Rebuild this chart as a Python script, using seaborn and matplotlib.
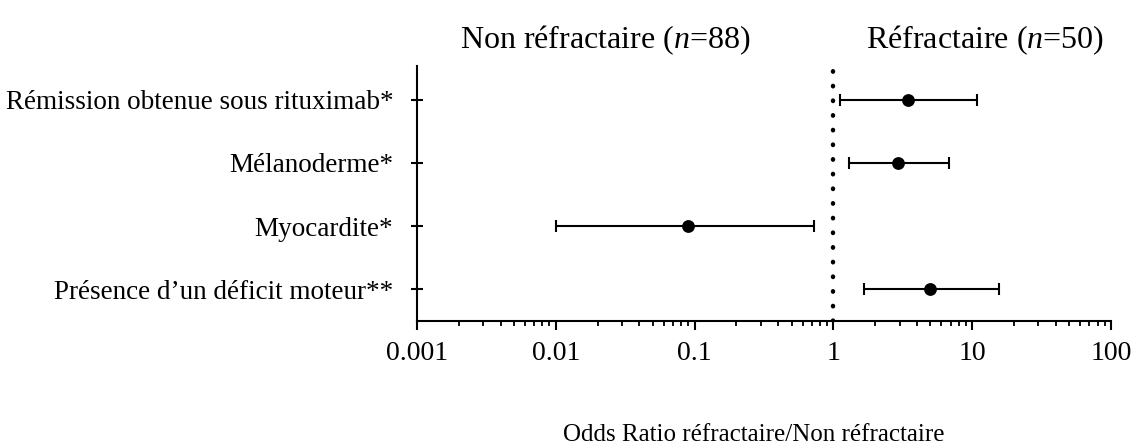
import matplotlib
matplotlib.use("Agg")
import matplotlib.pyplot as plt
import matplotlib.ticker as mticker
import seaborn as sns
import pandas as pd

# Odds ratios with 95% confidence intervals
variables = [
    "Rémission obtenue sous rituximab*",
    "Mélanoderme*",
    "Myocardite*",
    "Présence d\u2019un déficit moteur**",
]
odds_ratio = [3.46, 2.94, 0.090, 4.99]
ci_low = [1.11, 1.30, 0.010, 1.66]
ci_high = [10.8, 6.8, 0.73, 15.5]
xtick_values = [0.001, 0.01, 0.1, 1, 10, 100]
xtick_labels = ["0.001", "0.01", "0.1", "1", "10", "100"]

df = pd.DataFrame({"variable": variables, "or": odds_ratio,
                   "lo": ci_low, "hi": ci_high})
df["pos"] = range(len(df))

sns.set_theme(style="ticks")
plt.rcParams["font.family"] = ["Liberation Serif", "DejaVu Serif"]
plt.rcParams["mathtext.fontset"] = "custom"
plt.rcParams["mathtext.rm"] = "Liberation Serif"
plt.rcParams["mathtext.it"] = "Liberation Serif:italic"

fig = plt.figure(figsize=(11.39, 4.46), dpi=100)
ax = fig.add_axes([417 / 1139, 1 - 321 / 446, (1111 - 417) / 1139, (321 - 66) / 446])

ax.set_xscale("log")
ax.axvline(1, color="black", linestyle=(0, (0.1, 3.2)), linewidth=3.2,
           dash_capstyle="round", zorder=1)

ax.errorbar(df["or"], df["pos"],
            xerr=[df["or"] - df["lo"], df["hi"] - df["or"]],
            fmt="none", ecolor="black", elinewidth=1.5, capsize=4.3,
            capthick=1.5, zorder=2)
sns.scatterplot(data=df, x="or", y="pos", ax=ax, color="black", s=85,
                edgecolor="black", linewidth=0, zorder=3, legend=False)

ax.set_xlim(0.001, 100)
ax.set_ylim(3.5, -0.53)
ax.set_xticks(xtick_values)
ax.set_xticklabels(xtick_labels)
ax.xaxis.set_minor_locator(mticker.LogLocator(base=10, subs=range(2, 10), numticks=20))
ax.xaxis.set_minor_formatter(mticker.NullFormatter())
ax.set_yticks(df["pos"])
ax.set_yticklabels(df["variable"])

for side in ["top", "right"]:
    ax.spines[side].set_visible(False)
for side in ["left", "bottom"]:
    ax.spines[side].set_linewidth(1.5)
    ax.spines[side].set_color("black")

ax.tick_params(axis="x", which="major", length=6.5, width=1.5, labelsize=20,
               pad=8, colors="black")
ax.tick_params(axis="x", which="minor", length=3.3, width=1.3, colors="black")
ax.tick_params(axis="y", which="major", direction="inout", length=8, width=1.5,
               labelsize=19.5, pad=13, colors="black")

ax.set_xlabel("Odds Ratio réfractaire/Non réfractaire", fontsize=18,
              labelpad=42, color="black")
ax.xaxis.label.set_x(0.485)
ax.set_ylabel("")

fig.text(605 / 1139, 1 - 40 / 446, "Non réfractaire ($n$=88)", fontsize=23,
         ha="center", va="center", color="black")
fig.text(985 / 1139, 1 - 40 / 446, "Réfractaire ($n$=50)", fontsize=23,
         ha="center", va="center", color="black")

fig.savefig("out.png", dpi=100, facecolor="white")
